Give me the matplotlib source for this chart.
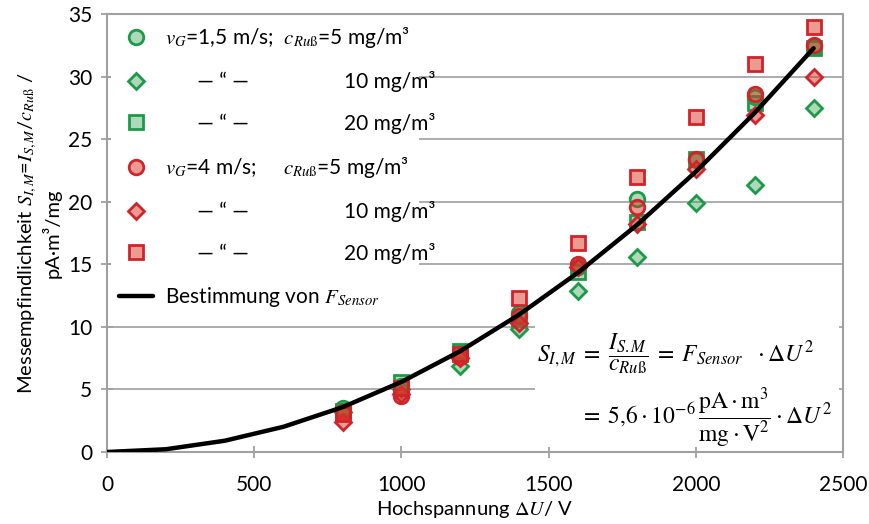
import matplotlib
matplotlib.use("Agg")
import matplotlib.pyplot as plt
from matplotlib.patches import Rectangle

plt.rcParams['font.family'] = ['Lato', 'DejaVu Sans']
plt.rcParams['mathtext.fontset'] = 'stix'

# Messdaten: Messempfindlichkeit in pA·m³/mg über der Hochspannung
u_mess = [800, 1000, 1200, 1400, 1600, 1800, 2000, 2200, 2400]
s_v15_c5 = [3.5, 5.3, 7.9, 11.1, 14.8, 20.2, 23.3, 28.4, 32.4]
s_v15_c10 = [3.2, 5.0, 6.9, 9.8, 12.9, 15.6, 19.9, 21.3, 27.5]
s_v15_c20 = [3.3, 5.6, 8.1, 10.6, 14.4, 18.4, 23.4, 27.9, 32.3]
s_v4_c5 = [3.2, 4.5, 7.6, 10.9, 15.0, 19.6, 23.4, 28.6, 32.5]
s_v4_c10 = [2.4, 4.6, 7.5, 10.3, 14.8, 18.2, 22.6, 26.9, 30.0]
s_v4_c20 = [3.0, 5.1, 7.8, 12.3, 16.7, 22.0, 26.8, 31.0, 34.0]

# Bestimmung von F_Sensor (S = 5,6e-6 · ΔU²)
u_fit = [0, 200, 400, 600, 800, 1000, 1200, 1400, 1600, 1800, 2000, 2200, 2400]
s_fit = [0.0, 0.22, 0.90, 2.02, 3.58, 5.60, 8.06, 10.98, 14.34, 18.14, 22.40, 27.10, 32.26]

labels_left = [r"$v_G$=1,5 m/s;  $c_{Ru\mathrm{ß}}$=5 mg/m³",
               "      — “ —",
               "      — “ —",
               r"$v_G$=4 m/s;     $c_{Ru\mathrm{ß}}$=5 mg/m³",
               "      — “ —",
               "      — “ —"]
labels_right = ["", "10 mg/m³", "20 mg/m³", "", "10 mg/m³", "20 mg/m³"]
label_fit = r"Bestimmung von $F_{Sensor}$"

green_edge = "#1c9a48"
green_face = (0.20, 0.62, 0.32, 0.40)
red_edge = "#d0232a"
red_face = (0.86, 0.22, 0.16, 0.50)

fig = plt.figure(figsize=(8.69, 5.24), dpi=100)
ax = fig.add_axes([0.1231, 0.1374, 0.8470, 0.8359])

series = [
    (s_v15_c5, 'o', 10.5, green_edge, green_face),
    (s_v15_c10, 'D', 8.0, green_edge, green_face),
    (s_v15_c20, 's', 10.0, green_edge, green_face),
    (s_v4_c5, 'o', 10.5, red_edge, red_face),
    (s_v4_c10, 'D', 8.0, red_edge, red_face),
    (s_v4_c20, 's', 10.0, red_edge, red_face),
]
handles = []
for i, (vals, m, ms, ec, fc) in enumerate(series):
    h, = ax.plot(u_mess, vals, linestyle='none', marker=m, markersize=ms,
                 markeredgecolor=ec, markerfacecolor=fc, markeredgewidth=2.0,
                 zorder=4 + i * 0.1)
    handles.append(h)

line_fit, = ax.plot(u_fit, s_fit, color='black', linewidth=3.2, zorder=5,
                    solid_capstyle='round')

ax.set_xlim(0, 2500)
ax.set_ylim(0, 35)
ax.set_xticks(range(0, 2501, 500))
ax.set_yticks(range(0, 36, 5))
ax.set_xticks([1000, 2000], minor=True)
ax.grid(False)
ax.yaxis.grid(True, which='major', color='#a6a6a6', linewidth=1.3, zorder=0)
ax.xaxis.grid(True, which='minor', color='#a6a6a6', linewidth=1.3, zorder=0)
ax.tick_params(axis='x', which='minor', length=0)
ax.tick_params(axis='both', which='major', direction='inout', length=9,
               width=1.3, color='#a0a0a0', labelsize=15)
ax.tick_params(axis='x', which='major', pad=12)
ax.tick_params(axis='y', which='major', pad=6)
for sp in ax.spines.values():
    sp.set_color('#a0a0a0')
    sp.set_linewidth(1.5)
ax.set_axisbelow(True)

ax.set_xlabel(r"Hochspannung $\mathit{\Delta U}$/ V", fontsize=14.5, labelpad=3)
ax.set_ylabel("Messempfindlichkeit $S_{I,M}$=$I_{S,M}$/$c_{Ru\\mathrm{ß}}$ /\npA·m³/mg",
              fontsize=14.5, linespacing=1.15, labelpad=5)

leg = ax.legend(handles + [line_fit], labels_left + [label_fit],
                loc='upper left', bbox_to_anchor=(0.0, 1.003), fontsize=15,
                frameon=True, facecolor='white', edgecolor='none', framealpha=1,
                fancybox=False, labelspacing=1.04, handlelength=1.6,
                handletextpad=0.6, borderpad=0.4, borderaxespad=0.2)
leg.set_zorder(6)

# Weißer Hintergrund für die Formel
ax.add_patch(Rectangle((0.582, 0.011), 0.412, 0.29, transform=ax.transAxes,
                       facecolor='white', edgecolor='none', zorder=1.5))
ax.text(0.584, 0.226,
        r"$S_{I,M}\;=\;\dfrac{I_{S.M}}{c_{Ru\mathrm{ß}}}\;=\;F_{Sensor}\ \ \cdot\Delta U^2$",
        transform=ax.transAxes, fontsize=17, va='center', ha='left', zorder=7)
ax.text(0.643, 0.078,
        r"$=\;5{,}6\cdot10^{-6}\,\dfrac{\mathrm{pA}\cdot\mathrm{m}^3}{\mathrm{mg}\cdot\mathrm{V}^2}\cdot\Delta U^2$",
        transform=ax.transAxes, fontsize=17, va='center', ha='left', zorder=7)

# Rechte Spalte der Legende (Konzentrationen), auf Höhe der Legendeneinträge
fig.canvas.draw()
inv = ax.transAxes.inverted()
x_right = (435 - 107) / 736
for txt, right in zip(leg.get_texts()[:6], labels_right):
    if not right:
        continue
    bb = txt.get_window_extent()
    y_ax = inv.transform((0, (bb.y0 + bb.y1) / 2))[1]
    ax.text(x_right, y_ax, right, transform=ax.transAxes, fontsize=15,
            ha='right', va='center', zorder=8)

fig.savefig("out.png", dpi=100)
